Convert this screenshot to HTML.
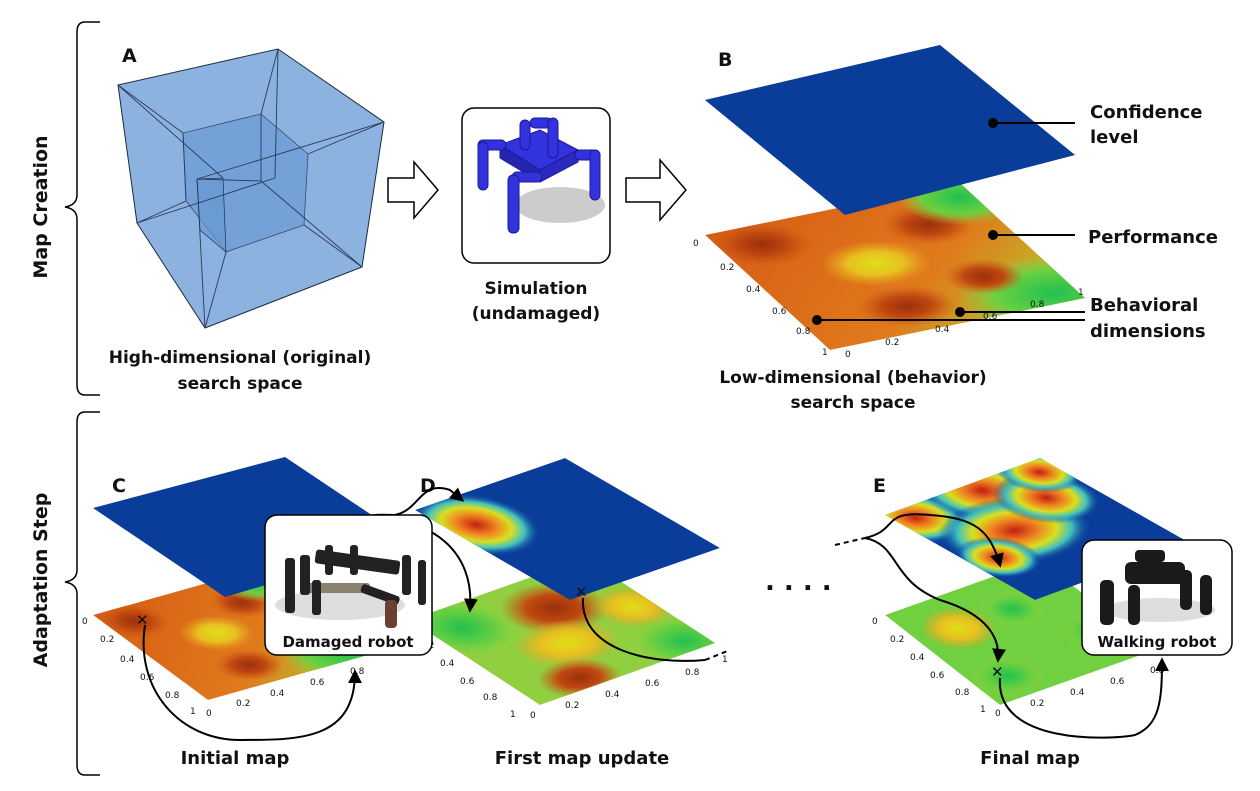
<!DOCTYPE html>
<html><head><meta charset="utf-8"><style>
html,body{margin:0;padding:0;background:#fff;width:1260px;height:791px;overflow:hidden}
svg{display:block}
text{font-family:"DejaVu Sans","Liberation Sans",sans-serif;font-weight:bold;fill:#111}
.t{font-size:19px}
.s{font-size:9px;font-weight:normal}
</style></head><body>
<svg width="1260" height="791" viewBox="0 0 1260 791" xmlns="http://www.w3.org/2000/svg">
<defs>
<clipPath id="uc"><rect width="100" height="100"/></clipPath>
<radialGradient id="rd"><stop offset="0" stop-color="#9a300c"/><stop offset="0.5" stop-color="#c04810"/><stop offset="1" stop-color="#d05a14" stop-opacity="0"/></radialGradient>
<radialGradient id="yl"><stop offset="0" stop-color="#dede18"/><stop offset="0.5" stop-color="#e8c020"/><stop offset="1" stop-color="#e8a020" stop-opacity="0"/></radialGradient>
<radialGradient id="gr"><stop offset="0" stop-color="#22c050"/><stop offset="0.6" stop-color="#6ad040"/><stop offset="1" stop-color="#90d040" stop-opacity="0"/></radialGradient>
<radialGradient id="hot"><stop offset="0" stop-color="#c02010"/><stop offset="0.3" stop-color="#f08020"/><stop offset="0.55" stop-color="#d8e020"/><stop offset="0.75" stop-color="#40c0c0"/><stop offset="1" stop-color="#0a3d9a" stop-opacity="0"/></radialGradient>
<linearGradient id="bg1" x1="0" y1="0" x2="1" y2="1"><stop offset="0" stop-color="#d65c14"/><stop offset="0.6" stop-color="#e07a1c"/><stop offset="1" stop-color="#b0d030"/></linearGradient>
<g id="heat"><g clip-path="url(#uc)">
<rect width="100" height="100" fill="url(#bg1)"/>
<ellipse cx="15" cy="15" rx="18" ry="18" fill="url(#rd)"/>
<ellipse cx="45" cy="45" rx="20" ry="18" fill="url(#yl)"/>
<ellipse cx="75" cy="25" rx="16" ry="16" fill="url(#rd)"/>
<ellipse cx="40" cy="80" rx="18" ry="16" fill="url(#rd)"/>
<ellipse cx="95" cy="10" rx="22" ry="22" fill="url(#gr)"/>
<ellipse cx="92" cy="92" rx="35" ry="30" fill="url(#gr)"/>
<ellipse cx="75" cy="70" rx="14" ry="14" fill="url(#rd)"/>
</g></g>
<g id="heatD"><g clip-path="url(#uc)">
<rect width="100" height="100" fill="#90d040"/>
<ellipse cx="15" cy="20" rx="25" ry="30" fill="url(#gr)"/>
<ellipse cx="60" cy="30" rx="25" ry="25" fill="url(#rd)"/>
<ellipse cx="45" cy="60" rx="25" ry="22" fill="url(#yl)"/>
<ellipse cx="30" cy="90" rx="20" ry="18" fill="url(#rd)"/>
<ellipse cx="90" cy="50" rx="18" ry="20" fill="url(#yl)"/>
<ellipse cx="90" cy="90" rx="25" ry="25" fill="url(#gr)"/>
</g></g>
<g id="heatE"><g clip-path="url(#uc)">
<rect width="100" height="100" fill="#70d040"/>
<ellipse cx="25" cy="30" rx="20" ry="20" fill="url(#yl)"/>
<ellipse cx="60" cy="30" rx="18" ry="18" fill="url(#gr)"/>
<ellipse cx="20" cy="80" rx="20" ry="20" fill="url(#gr)"/>
<ellipse cx="85" cy="70" rx="20" ry="20" fill="url(#gr)"/>
</g></g>
<g id="heatEt"><g clip-path="url(#uc)">
<rect width="100" height="100" fill="#0a3d9a"/>
<ellipse cx="10" cy="10" rx="25" ry="25" fill="url(#hot)"/>
<ellipse cx="55" cy="8" rx="30" ry="30" fill="url(#hot)"/>
<ellipse cx="40" cy="45" rx="40" ry="30" fill="url(#hot)"/>
<ellipse cx="75" cy="30" rx="25" ry="25" fill="url(#hot)"/>
<ellipse cx="15" cy="60" rx="20" ry="20" fill="url(#hot)"/>
<ellipse cx="90" cy="10" rx="20" ry="20" fill="url(#hot)"/>
</g></g>
<g id="blueD"><g clip-path="url(#uc)">
<rect width="100" height="100" fill="#0a3d9a"/>
<ellipse cx="15" cy="25" rx="30" ry="30" fill="url(#hot)"/>
</g></g>
<marker id="ah" viewBox="0 0 10 10" refX="8" refY="5" markerWidth="7" markerHeight="7" orient="auto"><path d="M0,0 L10,5 L0,10 z" fill="#000"/></marker>
</defs>

<!-- braces -->
<path d="M100,22 L85,22 Q77,22 77,32 L77,195 Q77,205 65,207 Q77,209 77,219 L77,385 Q77,395 85,395 L100,395" fill="none" stroke="#000" stroke-width="1.5"/>
<path d="M100,412 L85,412 Q77,412 77,422 L77,570 Q77,580 65,582 Q77,584 77,594 L77,765 Q77,775 85,775 L100,775" fill="none" stroke="#000" stroke-width="1.5"/>
<text class="t" transform="translate(47,207) rotate(-90)" text-anchor="middle">Map Creation</text>
<text class="t" transform="translate(47,580) rotate(-90)" text-anchor="middle">Adaptation Step</text>

<!-- Tesseract -->
<polygon points="118,85 278,49 384,122 362,267 205,328 137,223" fill="#8cb2e0" stroke="#1a2a40" stroke-width="1"/>
<polygon points="183,133 261,114 308,154 304,225 226,252 186,201" fill="#74a2d8" stroke="#3a4a6a" stroke-width="0.8"/>
<polygon points="197,179 223,178 226,252 200,230" fill="#6898d2" fill-opacity="0.7" stroke="#2a3a5a" stroke-width="0.8"/>
<g stroke="#2a3a5a" stroke-width="0.9" fill="none">
<line x1="118" y1="85" x2="223" y2="178"/>
<line x1="118" y1="85" x2="183" y2="133"/>
<line x1="278" y1="49" x2="261" y2="114"/>
<line x1="278" y1="49" x2="275" y2="178"/>
<line x1="384" y1="122" x2="197" y2="179"/>
<line x1="384" y1="122" x2="308" y2="154"/>
<line x1="362" y1="267" x2="261" y2="181"/>
<line x1="362" y1="267" x2="304" y2="225"/>
<line x1="205" y1="328" x2="197" y2="179"/>
<line x1="205" y1="328" x2="226" y2="252"/>
<line x1="137" y1="223" x2="275" y2="178"/>
<line x1="137" y1="223" x2="186" y2="201"/>
<line x1="261" y1="181" x2="197" y2="179"/>
<line x1="261" y1="114" x2="261" y2="181"/>
<line x1="183" y1="133" x2="186" y2="201"/>
</g>
<text x="122" y="62" font-size="19">A</text>
<text x="240" y="363" font-size="17" text-anchor="middle">High-dimensional (original)</text>
<text x="240" y="389" font-size="17" text-anchor="middle">search space</text>

<!-- hollow arrows -->
<path d="M388,178 L414,178 L414,162 L438,190 L414,218 L414,202 L388,202 Z" fill="#fff" stroke="#000" stroke-width="1.5"/>
<path d="M626,178 L660,178 L660,160 L686,190 L660,220 L660,202 L626,202 Z" fill="#fff" stroke="#000" stroke-width="1.5"/>

<!-- simulation box -->
<rect x="462" y="108" width="148" height="155" rx="12" fill="#fff" stroke="#000" stroke-width="1.5"/>
<ellipse cx="560" cy="205" rx="45" ry="18" fill="#ccc"/>
<g fill="#3333dd" stroke="#1a1a99" stroke-width="1">
<polygon points="500,145 540,130 578,150 540,170"/>
<polygon points="500,145 540,170 540,182 500,158" fill="#2525b0"/>
<polygon points="540,170 578,150 578,162 540,182" fill="#2a2ac0"/>
<rect x="478" y="140" width="28" height="10" rx="5"/><rect x="478" y="142" width="10" height="48" rx="5"/>
<rect x="530" y="118" width="22" height="10" rx="5"/><rect x="548" y="118" width="10" height="40" rx="5"/>
<rect x="575" y="150" width="25" height="10" rx="5"/><rect x="590" y="150" width="10" height="50" rx="5"/>
<rect x="512" y="172" width="30" height="10" rx="5"/><rect x="508" y="175" width="11" height="58" rx="5"/>
<rect x="520" y="120" width="10" height="30" rx="5"/>
</g>
<text x="536" y="294" font-size="17" text-anchor="middle">Simulation</text>
<text x="536" y="319" font-size="17" text-anchor="middle">(undamaged)</text>

<!-- B -->
<text x="718" y="66" font-size="19">B</text>
<g transform="matrix(2.55,-0.52,1.25,1.15,705,235)"><use href="#heat"/></g>
<polygon points="705,100 940,45 1075,155 845,215" fill="#0a3d9a"/>
<text x="693" y="246" class="s">0</text><text x="720" y="270" class="s">0.2</text><text x="746" y="292" class="s">0.4</text>
<text x="772" y="314" class="s">0.6</text><text x="796" y="334" class="s">0.8</text><text x="822" y="355" class="s">1</text>
<text x="845" y="357" class="s">0</text><text x="885" y="345" class="s">0.2</text><text x="935" y="332" class="s">0.4</text>
<text x="983" y="319" class="s">0.6</text><text x="1030" y="307" class="s">0.8</text><text x="1078" y="295" class="s">1</text>
<g stroke="#000" stroke-width="2">
<line x1="993" y1="123" x2="1075" y2="123"/>
<line x1="993" y1="235" x2="1075" y2="235"/>
<line x1="960" y1="312" x2="1085" y2="312"/>
<line x1="817" y1="320" x2="1085" y2="320"/>
</g>
<g fill="#000"><circle cx="993" cy="123" r="5"/><circle cx="993" cy="235" r="5"/><circle cx="960" cy="312" r="5"/><circle cx="817" cy="320" r="5"/></g>
<text x="1090" y="118" font-size="18">Confidence</text>
<text x="1090" y="143" font-size="18">level</text>
<text x="1088" y="243" font-size="18">Performance</text>
<text x="1090" y="311" font-size="18">Behavioral</text>
<text x="1090" y="337" font-size="18">dimensions</text>
<text x="853" y="383" font-size="17" text-anchor="middle">Low-dimensional (behavior)</text>
<text x="853" y="408" font-size="17" text-anchor="middle">search space</text>

<!-- C -->
<text x="112" y="492" font-size="19">C</text>
<g transform="matrix(1.6,-0.45,1.15,0.85,93,615)"><use href="#heat"/></g>
<polygon points="93,508 285,457 412,542 225,597" fill="#0a3d9a"/>
<text x="82" y="624" class="s">0</text><text x="100" y="642" class="s">0.2</text><text x="120" y="662" class="s">0.4</text><text x="140" y="680" class="s">0.6</text><text x="165" y="698" class="s">0.8</text><text x="190" y="714" class="s">1</text>
<text x="206" y="716" class="s">0</text><text x="236" y="706" class="s">0.2</text><text x="270" y="696" class="s">0.4</text><text x="310" y="685" class="s">0.6</text><text x="350" y="674" class="s">0.8</text>
<text x="136" y="625" font-size="15" font-weight="normal">✕</text>
<path d="M145,625 C135,690 180,740 240,740 C300,740 355,740 355,672" fill="none" stroke="#000" stroke-width="2" marker-end="url(#ah)"/>

<!-- D -->
<text x="420" y="492" font-size="19">D</text>
<g transform="matrix(1.75,-0.62,1.3,0.85,410,620)"><use href="#heatD"/></g>
<g transform="matrix(1.5,-0.52,1.55,0.9,415,510)"><use href="#blueD"/></g>
<text x="402" y="630" class="s">0</text><text x="420" y="648" class="s">0.2</text><text x="440" y="666" class="s">0.4</text><text x="460" y="684" class="s">0.6</text><text x="483" y="700" class="s">0.8</text><text x="510" y="717" class="s">1</text>
<text x="530" y="718" class="s">0</text><text x="565" y="708" class="s">0.2</text><text x="605" y="697" class="s">0.4</text><text x="645" y="686" class="s">0.6</text><text x="685" y="675" class="s">0.8</text><text x="722" y="662" class="s">1</text>
<text x="575" y="597" font-size="15" font-weight="normal">✕</text>
<path d="M583,598 C580,650 650,665 705,660" fill="none" stroke="#000" stroke-width="2"/>
<path d="M705,660 L730,650" fill="none" stroke="#000" stroke-width="2" stroke-dasharray="5,4"/>

<!-- damaged robot box -->
<path d="M352,540 C350,510 380,515 395,515 C420,510 420,480 450,490 L462,500" fill="none" stroke="#000" stroke-width="2" marker-end="url(#ah)"/>
<path d="M380,518 C430,520 475,550 470,610" fill="none" stroke="#000" stroke-width="2" marker-end="url(#ah)"/>
<rect x="265" y="515" width="167" height="140" rx="12" fill="#fff" stroke="#000" stroke-width="1.5"/>
<ellipse cx="340" cy="605" rx="65" ry="15" fill="#ddd"/>
<g fill="#222">
<rect x="315" y="555" width="85" height="14" rx="3" transform="rotate(8 357 562)"/>
<rect x="300" y="583" width="70" height="10" rx="3" fill="#8a8070"/>
<rect x="285" y="558" width="10" height="55" rx="3"/><rect x="300" y="555" width="10" height="40" rx="3"/>
<rect x="312" y="580" width="9" height="35" rx="3"/>
<rect x="325" y="545" width="8" height="30" rx="3"/><rect x="350" y="545" width="8" height="30" rx="3"/>
<rect x="402" y="555" width="9" height="40" rx="3"/><rect x="418" y="560" width="8" height="45" rx="3"/>
<rect x="360" y="590" width="40" height="9" rx="3" transform="rotate(20 380 595)"/>
</g>
<rect x="385" y="600" width="12" height="28" rx="4" fill="#6a4030"/>
<text x="348" y="647" font-size="15" text-anchor="middle">Damaged robot</text>

<!-- dots -->
<text x="765" y="590" font-size="26">. . . .</text>
<path d="M835,545 L865,538" fill="none" stroke="#000" stroke-width="2" stroke-dasharray="5,4"/>

<!-- E -->
<text x="873" y="492" font-size="19">E</text>
<g transform="matrix(1.55,-0.55,1.15,0.9,885,615)"><use href="#heatE"/></g>
<g transform="matrix(1.55,-0.57,1.5,0.85,885,515)"><use href="#heatEt"/></g>
<text x="872" y="624" class="s">0</text><text x="890" y="642" class="s">0.2</text><text x="910" y="660" class="s">0.4</text><text x="930" y="678" class="s">0.6</text><text x="955" y="695" class="s">0.8</text><text x="980" y="712" class="s">1</text>
<text x="995" y="716" class="s">0</text><text x="1030" y="706" class="s">0.2</text><text x="1070" y="695" class="s">0.4</text><text x="1110" y="684" class="s">0.6</text><text x="1150" y="673" class="s">0.8</text>
<path d="M865,538 C900,530 880,510 930,515 C975,518 990,530 1000,565" fill="none" stroke="#000" stroke-width="2" marker-end="url(#ah)"/>
<path d="M865,538 C900,545 890,580 940,600 C990,615 1000,640 998,660" fill="none" stroke="#000" stroke-width="2" marker-end="url(#ah)"/>
<text x="991" y="677" font-size="15" font-weight="normal">✕</text>
<path d="M1000,678 C995,745 1110,740 1135,735 C1160,725 1162,700 1162,660" fill="none" stroke="#000" stroke-width="2" marker-end="url(#ah)"/>
<rect x="1082" y="540" width="150" height="115" rx="12" fill="#fff" stroke="#000" stroke-width="1.5"/>
<ellipse cx="1160" cy="610" rx="55" ry="12" fill="#ddd"/>
<g fill="#1a1a1a">
<rect x="1125" y="562" width="60" height="22" rx="6"/>
<rect x="1100" y="580" width="14" height="45" rx="5"/><rect x="1128" y="585" width="12" height="40" rx="5"/>
<rect x="1180" y="570" width="12" height="40" rx="5"/><rect x="1200" y="575" width="12" height="40" rx="5"/>
<rect x="1135" y="550" width="30" height="12" rx="4"/>
</g>
<text x="1157" y="647" font-size="15" text-anchor="middle">Walking robot</text>

<text x="235" y="764" font-size="18" text-anchor="middle">Initial map</text>
<text x="582" y="764" font-size="18" text-anchor="middle">First map update</text>
<text x="1030" y="764" font-size="18" text-anchor="middle">Final map</text>
</svg>
</body></html>
